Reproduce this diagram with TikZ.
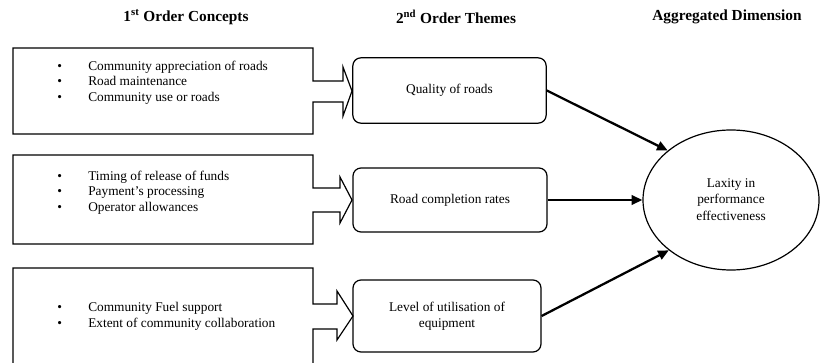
\documentclass[tikz,border=0pt]{standalone}
\usepackage{fontspec}
\setmainfont{Liberation Serif}
\usetikzlibrary{arrows.meta,shapes.geometric}
\tikzset{
  hdr/.style={font=\fontsize{11.5}{13}\selectfont\bfseries, inner sep=0pt},
  txt/.style={font=\fontsize{10}{12}\selectfont, inner sep=0pt, anchor=base west},
  ctxt/.style={font=\fontsize{10}{12}\selectfont, inner sep=0pt, anchor=base},
  callout/.style={draw=black, line width=0.9pt, line join=miter},
  theme/.style={draw=black, line width=0.9pt, rounded corners=6pt, inner sep=0pt},
  link/.style={line width=1.7pt, -{Triangle[length=8pt,width=7pt]}},
}
\begin{document}
\begin{tikzpicture}[x=0.75pt,y=-0.75pt]
\useasboundingbox (0,0) rectangle (820,363);
\clip (0,0) rectangle (820,363);

% headers
\node[hdr] (h1) at (186,17) {1\textsuperscript{st} Order Concepts};
\node[hdr] (h2) at (456,17) {2\textsuperscript{nd} Order Themes};
\node[hdr] (h3) at (727,17) {Aggregated Dimension};

% callout boxes (1st order concepts)
\draw[callout] (13,48) -- (313,48) -- (313,81) -- (343,81) -- (343,67) -- (352,91)
  -- (343,116) -- (343,102) -- (313,102) -- (313,134) -- (13,134) -- cycle;
\draw[callout] (13,155) -- (313,155) -- (313,188) -- (340,188) -- (340,177) -- (352,200)
  -- (340,223) -- (340,212) -- (313,212) -- (313,244) -- (13,244) -- cycle;
\draw[callout] (13,268) -- (313,268) -- (313,304) -- (337,304) -- (337,291) -- (353,316)
  -- (337,340) -- (337,329) -- (313,329) -- (313,380) -- (13,380) -- cycle;

% bullet texts
\foreach \y/\t [count=\i] in {70.5/Community appreciation of roads, 86/Road maintenance, 101.5/Community use or roads,
  180.5/Timing of release of funds, 196/Payment’s processing, 211.5/Operator allowances,
  311.5/Community Fuel support, 327/Extent of community collaboration}{
  \node[txt] (b\i) at (57,\y) {\textbullet};
  \node[txt] (t\i) at (88,\y) {\t};
}

% themes
\node[theme, minimum width=145pt, minimum height=49pt] (q1) at (449.5,90.5) {};
\node[ctxt] (q1t) at (449.5,94) {Quality of roads};
\node[theme, minimum width=145.5pt, minimum height=48pt] (q2) at (450,200) {};
\node[ctxt] (q2t) at (450,203.5) {Road completion rates};
\node[theme, minimum width=141pt, minimum height=54pt] (q3) at (447,316) {};
\node[ctxt] (q3t) at (447,311.5) {Level of utilisation of};
\node[ctxt] (q3u) at (447,327) {equipment};

% aggregated dimension
\node[draw=black, line width=0.9pt, ellipse, minimum width=132pt, minimum height=105pt, inner sep=0pt] (L) at (731,200) {};
\node[ctxt] (L1) at (731,188) {Laxity in};
\node[ctxt] (L2) at (731,204) {performance};
\node[ctxt] (L3) at (731,220) {effectiveness};

% links
\draw[link] (q1.east) -- (L.142);
\draw[link] (q2.east) -- (L.west);
\draw[link] (q3.east) -- (L.219);
\end{tikzpicture}
\end{document}
